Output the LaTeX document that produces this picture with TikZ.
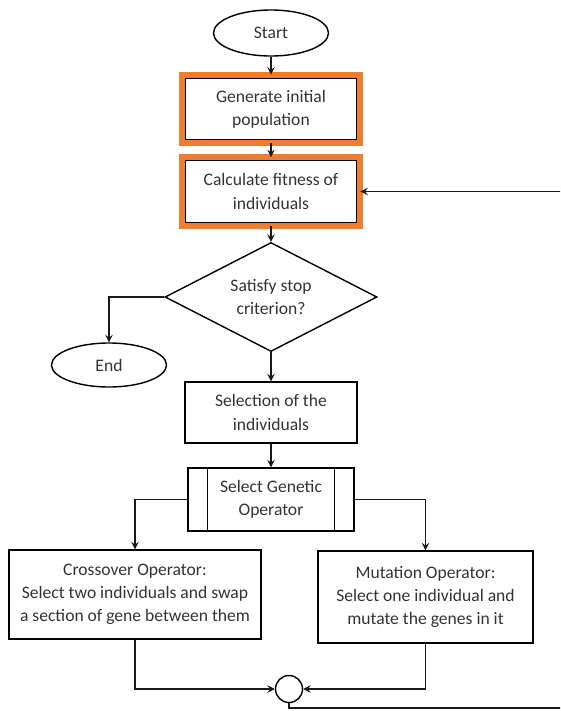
\documentclass[tikz,border=0pt]{standalone}
\usepackage{fontspec}
\setmainfont{Carlito}
\usepackage{tikz}
\usetikzlibrary{shapes.geometric,arrows}
\definecolor{hlorange}{rgb}{0.93,0.49,0.19}

\begin{document}
\begin{tikzpicture}[x=0.025cm,y=-0.025cm,
  font=\fontsize{12.5}{16.5}\selectfont, text=black!80,
  line/.style={->,>=stealth,line width=1.3pt,black!90},
  term/.style={draw,ellipse,line width=1pt,minimum width=2.875cm,minimum height=1.15cm},
  box/.style={draw,rectangle,line width=1pt,align=center,minimum width=4.3cm,minimum height=1.55cm},
  hl/.style={box,outer sep=0.085cm},
  cond/.style={draw,diamond,aspect=2,inner sep=1pt,line width=1pt,align=center,minimum width=5.3cm,minimum height=2.725cm},
  proc/.style={box,minimum width=4.15cm,minimum height=1.575cm},
  opbox/.style={box,minimum height=2.25cm},
  sumc/.style={draw,circle,line width=1pt,minimum size=0.675cm,inner sep=0pt}]
\useasboundingbox (0,0) rectangle (560,711);
\clip (0,0) rectangle (560,711);
\node[term] (start) at (271,33) {Start};
\node[hl] (gen) at (271,109) {Generate initial\\population};
\node[hl] (calc) at (271,191.5) {Calculate fitness of\\individuals};
\node[cond] (stop) at (271,297) {Satisfy stop\\criterion?};
\node[term,minimum height=1.1cm] (end) at (109,365) {End};
\node[box,minimum height=1.525cm] (sel) at (271,412.5) {Selection of the\\individuals};
\node[proc] (op) at (271,499.5) {Select Genetic\\Operator};
\node[opbox,minimum width=6.3cm,minimum height=2.225cm] (cross) at (135,594.5) {Crossover Operator:\\Select two individuals and swap\\a section of gene between them};
\node[opbox,minimum width=5.375cm,minimum height=2.3cm] (mut) at (425.5,597) {Mutation Operator:\\Select one individual and\\mutate the genes in it};
\node[sumc] (join) at (289,689) {};
\coordinate (loop) at (580,708);
% orange frames
\draw[hlorange,line width=0.15cm] (gen.north west) rectangle (gen.south east);
\draw[hlorange,line width=0.15cm] (calc.north west) rectangle (calc.south east);
% side bars of the operator box
\draw[line width=1pt] ([xshift=0.5cm]op.north west) -- ([xshift=0.5cm]op.south west);
\draw[line width=1pt] ([xshift=-0.5cm]op.north east) -- ([xshift=-0.5cm]op.south east);
\draw[line] (start) -- (gen);
\draw[line] (gen) -- (calc);
\draw[line] (calc) -- (stop);
\draw[line] (stop.west) -| (end.north);
\draw[line] (stop) -- (sel);
\draw[line] (sel) -- (op);
\draw[line] (op.west) -| (cross.north);
\draw[line] (op.east) -| (mut.north);
\draw[line] (cross.south) |- (join.west);
\draw[line] (mut.south) |- (join.east);
\draw[line] (join.south) |- (loop) |- (calc.east);
\end{tikzpicture}
\end{document}
